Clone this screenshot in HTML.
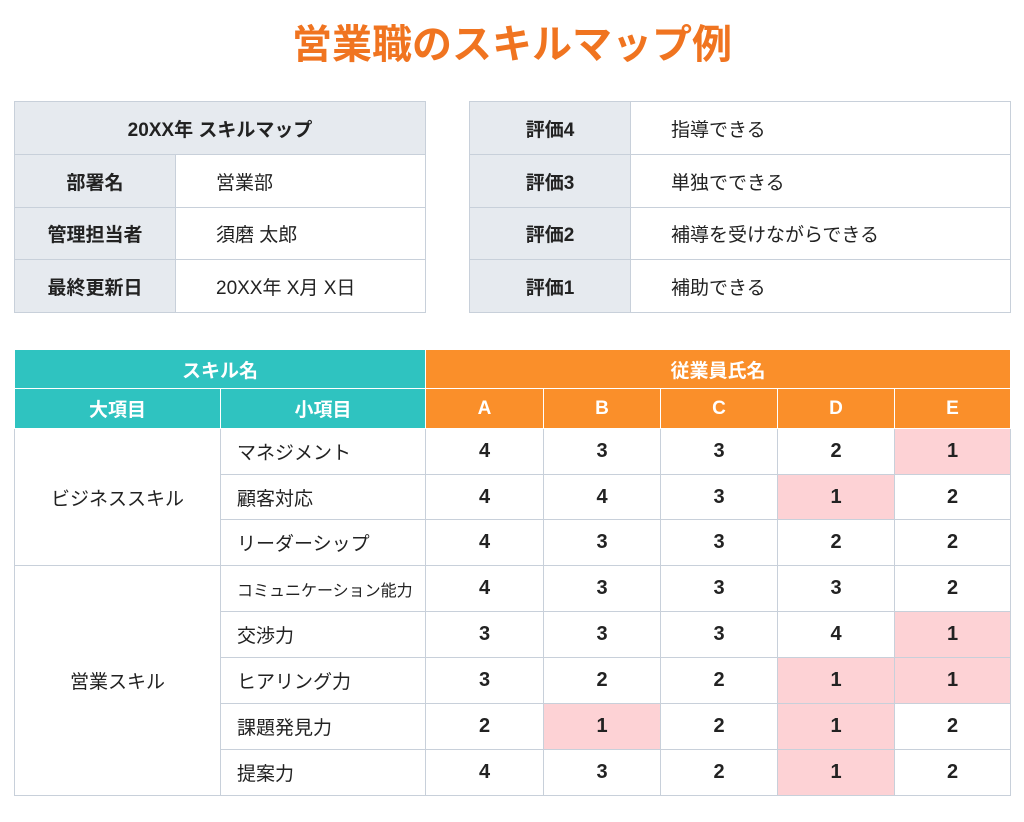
<!DOCTYPE html>
<html><head><meta charset="utf-8"><style>
body{margin:0;width:1024px;height:822px;background:#fff;position:relative;font-family:"Liberation Sans","Noto Sans CJK JP",sans-serif;color:#222;}
h1{position:absolute;left:0;top:18px;width:1024px;margin:0;text-align:center;font-size:40px;font-weight:bold;color:#f07420;line-height:54px;}
table{position:absolute;border-collapse:collapse;table-layout:fixed;}
td{border:1px solid #c8d0da;padding:0;font-size:19px;}
.g{background:#e6eaef;font-weight:bold;text-align:center;}
.v{padding-left:40px;}
.t{background:#2fc3c0;color:#fff;font-weight:bold;text-align:center;border-color:#fff;}
.o{background:#fa8f2a;color:#fff;font-weight:bold;text-align:center;border-color:#fff;}
.n{text-align:center;font-weight:bold;font-size:20px;}
.p{background:#fdd2d5;}
.s{padding-left:16px;}
.c{text-align:center;}
</style></head><body>
<h1>営業職のスキルマップ例</h1>
<table style="left:14px;top:101px;width:411px;">
<col style="width:161px"><col style="width:250px">
<tr style="height:53px"><td class="g" colspan="2">20XX年 スキルマップ</td></tr>
<tr style="height:53px"><td class="g">部署名</td><td class="v">営業部</td></tr>
<tr style="height:52px"><td class="g">管理担当者</td><td class="v">須磨 太郎</td></tr>
<tr style="height:53px"><td class="g">最終更新日</td><td class="v">20XX年 X月 X日</td></tr>
</table>
<table style="left:469px;top:101px;width:541px;">
<col style="width:161px"><col style="width:380px">
<tr style="height:53px"><td class="g">評価4</td><td class="v">指導できる</td></tr>
<tr style="height:53px"><td class="g">評価3</td><td class="v">単独でできる</td></tr>
<tr style="height:52px"><td class="g">評価2</td><td class="v">補導を受けながらできる</td></tr>
<tr style="height:53px"><td class="g">評価1</td><td class="v">補助できる</td></tr>
</table>
<table style="left:14px;top:349px;width:996px;">
<col style="width:206px"><col style="width:205px"><col style="width:118px"><col style="width:117px"><col style="width:117px"><col style="width:117px"><col style="width:116px">
<tr style="height:39px"><td class="t" colspan="2">スキル名</td><td class="o" colspan="5">従業員氏名</td></tr>
<tr style="height:40px"><td class="t">大項目</td><td class="t">小項目</td><td class="o">A</td><td class="o">B</td><td class="o">C</td><td class="o">D</td><td class="o">E</td></tr>
<tr style="height:46px"><td class="c" rowspan="3">ビジネススキル</td><td class="s">マネジメント</td><td class="n">4</td><td class="n">3</td><td class="n">3</td><td class="n">2</td><td class="n p">1</td></tr>
<tr style="height:45px"><td class="s">顧客対応</td><td class="n">4</td><td class="n">4</td><td class="n">3</td><td class="n p">1</td><td class="n">2</td></tr>
<tr style="height:46px"><td class="s">リーダーシップ</td><td class="n">4</td><td class="n">3</td><td class="n">3</td><td class="n">2</td><td class="n">2</td></tr>
<tr style="height:46px"><td class="c" rowspan="5">営業スキル</td><td class="s" style="font-size:16px">コミュニケーション能力</td><td class="n">4</td><td class="n">3</td><td class="n">3</td><td class="n">3</td><td class="n">2</td></tr>
<tr style="height:46px"><td class="s">交渉力</td><td class="n">3</td><td class="n">3</td><td class="n">3</td><td class="n">4</td><td class="n p">1</td></tr>
<tr style="height:46px"><td class="s">ヒアリング力</td><td class="n">3</td><td class="n">2</td><td class="n">2</td><td class="n p">1</td><td class="n p">1</td></tr>
<tr style="height:46px"><td class="s">課題発見力</td><td class="n">2</td><td class="n p">1</td><td class="n">2</td><td class="n p">1</td><td class="n">2</td></tr>
<tr style="height:46px"><td class="s">提案力</td><td class="n">4</td><td class="n">3</td><td class="n">2</td><td class="n p">1</td><td class="n">2</td></tr>
</table>
</body></html>
